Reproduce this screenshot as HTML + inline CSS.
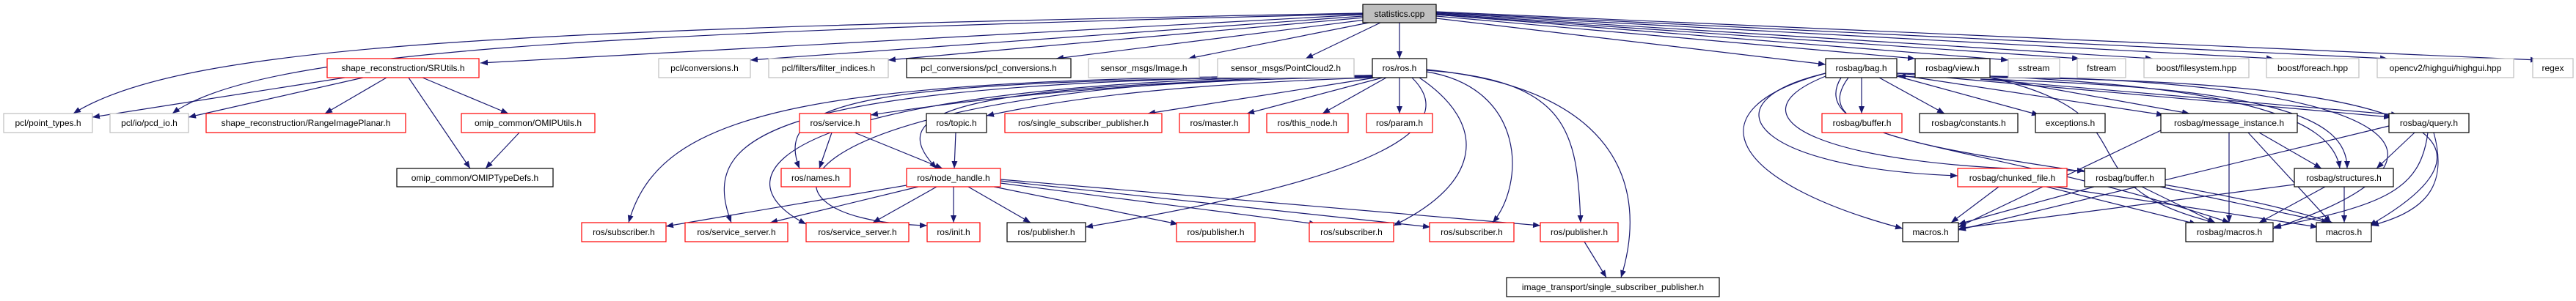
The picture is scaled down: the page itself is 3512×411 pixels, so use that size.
<!DOCTYPE html>
<html><head><meta charset="utf-8"><style>
html,body{margin:0;padding:0;background:#fff;}
svg{display:block;}
text{font-family:"Liberation Sans",sans-serif;font-size:12px;text-anchor:middle;fill:#000;}
.e{fill:none;stroke:#191970;stroke-width:1.2;marker-end:url(#a);}
.r{fill:#fff;stroke:#ff0000;stroke-width:1.2;}
.g{fill:#fff;stroke:#bfbfbf;stroke-width:1.2;}
.k{fill:#fff;stroke:#000;stroke-width:1.2;}
</style></head><body>
<svg width="3512" height="411" viewBox="0 0 3512 411" xmlns="http://www.w3.org/2000/svg">
<defs><marker id="a" markerUnits="userSpaceOnUse" markerWidth="10" markerHeight="8" refX="10" refY="4" orient="auto"><path d="M0,0 L10,4 L0,8 z" fill="#191970"/></marker></defs>
<g>
<!-- statistics edges -->
<path class="e" d="M1858,20 L655,86"/>
<path class="e" d="M1858,22 L1023,82"/>
<path class="e" d="M1860,24 L1211,82"/>
<path class="e" d="M1862,27 L1440,80"/>
<path class="e" d="M1866,31 L1620,80"/>
<path class="e" d="M1882,31 L1780,80"/>
<path class="e" d="M1908,31 L1908,80"/>
<path class="e" d="M1858,18 C700,40 250,60 100,155"/>
<path class="e" d="M1858,19 C800,45 350,70 235,155"/>
<path class="e" d="M1958,25 L2489,88"/>
<path class="e" d="M1958,22 L2611,80"/>
<path class="e" d="M1958,20 L2738,82"/>
<path class="e" d="M1958,20 L2835,80"/>
<path class="e" d="M1958,19 L2935,80"/>
<path class="e" d="M1958,18 L3100,80"/>
<path class="e" d="M1958,17 L3255,80"/>
<path class="e" d="M1958,16 L3460,82"/>
<!-- SRUtils -->
<path class="e" d="M470,106 L126,160"/>
<path class="e" d="M495,106 L257,160"/>
<path class="e" d="M527,106 L443,155"/>
<path class="e" d="M557,106 L641,230"/>
<path class="e" d="M576,106 L693,155"/>
<path class="e" d="M708,181 L662,230"/>
<!-- ros.h -->
<path class="e" d="M1871,104 C1500,112 1300,140 1187,157"/>
<path class="e" d="M1871,106 C1600,115 1450,135 1345,158"/>
<path class="e" d="M1875,106 L1565,155"/>
<path class="e" d="M1885,106 L1700,155"/>
<path class="e" d="M1890,106 L1803,155"/>
<path class="e" d="M1908,106 L1908,155"/>
<path class="e" d="M1871,104 C1200,110 1050,130 1090,230"/>
<path class="e" d="M1871,105 C1300,115 1200,150 1277,230"/>
<path class="e" d="M1871,103 C1100,105 900,150 857,304"/>
<path class="e" d="M1871,103 C1050,110 950,180 997,304"/>
<path class="e" d="M1871,103 C1050,110 970,240 1099,306"/>
<path class="e" d="M1871,103 C1050,112 980,300 1264,308"/>
<path class="e" d="M1925,106 C1990,170 1900,240 1480,310"/>
<path class="e" d="M1935,106 C2030,170 2020,250 1900,308"/>
<path class="e" d="M1945,98 C2080,120 2080,250 2035,304"/>
<path class="e" d="M1945,96 C2140,110 2150,180 2155,304"/>
<path class="e" d="M1945,95 C2200,120 2250,250 2210,379"/>
<path class="e" d="M2160,330 L2190,379"/>
<!-- service/topic/node_handle -->
<path class="e" d="M1134,181 L1117,230"/>
<path class="e" d="M1165,181 L1285,230"/>
<path class="e" d="M1303,181 L1301,230"/>
<path class="e" d="M1236,253 L908,309"/>
<path class="e" d="M1252,255 L1050,304"/>
<path class="e" d="M1277,255 L1190,304"/>
<path class="e" d="M1300,255 L1300,304"/>
<path class="e" d="M1320,255 L1405,304"/>
<path class="e" d="M1355,255 L1606,306"/>
<path class="e" d="M1364,250 L1795,306"/>
<path class="e" d="M1364,247 L1950,310"/>
<path class="e" d="M1364,245 L2100,308"/>
<!-- bag.h -->
<path class="e" d="M2538,106 L2538,155"/>
<path class="e" d="M2562,106 L2651,155"/>
<path class="e" d="M2586,104 L2780,157"/>
<path class="e" d="M2586,102 L2950,157"/>
<path class="e" d="M2586,100 C3050,110 3180,160 3190,230"/>
<path class="e" d="M2586,100 L3260,160"/>
<path class="e" d="M2489,100 C2320,140 2390,230 2669,240"/>
<path class="e" d="M2489,104 C2350,160 2480,230 2842,233"/>
<path class="e" d="M2489,100 C2300,150 2360,250 2594,312"/>
<path class="e" d="M2520,106 C2450,200 2700,190 3040,304"/>
<path class="e" d="M2510,106 C2440,220 2900,215 3180,304"/>
<!-- view.h -->
<path class="e" d="M2640,106 L2588,104"/>
<path class="e" d="M2713,106 L2985,155"/>
<path class="e" d="M2700,108 L3270,157"/>
<path class="e" d="M2700,108 C3100,120 3200,160 3200,230"/>
<path class="e" d="M2713,106 C2950,160 2800,250 3020,304"/>
<path class="e" d="M2713,106 C3350,110 3420,200 3230,308"/>
<path class="e" d="M2713,104 C3300,112 3380,220 3099,312"/>
<!-- message_instance -->
<path class="e" d="M2946,178 L2670,310"/>
<path class="e" d="M3039,181 L3039,304"/>
<path class="e" d="M3080,181 L3165,230"/>
<path class="e" d="M3065,181 L3178,304"/>
<!-- query -->
<path class="e" d="M3292,181 L3240,230"/>
<path class="e" d="M3257,172 L2670,314"/>
<path class="e" d="M3310,181 C3300,260 3250,280 3100,310"/>
<path class="e" d="M3318,181 C3340,260 3300,290 3233,308"/>
<!-- chunked/buffer/structures -->
<path class="e" d="M2725,255 L2660,304"/>
<path class="e" d="M2790,255 L2995,306"/>
<path class="e" d="M2800,255 L3160,310"/>
<path class="e" d="M2855,255 L2670,306"/>
<path class="e" d="M2920,255 L3020,304"/>
<path class="e" d="M2945,255 L3175,304"/>
<path class="e" d="M3128,252 L2670,312"/>
<path class="e" d="M3170,255 L3080,304"/>
<path class="e" d="M3196,255 L3196,304"/>
</g>
<g>
<rect x="1858" y="6" width="100" height="25" fill="#bfbfbf" stroke="#000" stroke-width="1.2"/><text x="1908" y="23">statistics.cpp</text>
<!-- row1 -->
<rect class="r" x="446" y="80" width="207" height="26"/><text x="549.5" y="97">shape_reconstruction/SRUtils.h</text>
<rect class="g" x="898" y="80" width="125" height="26"/><text x="960.5" y="97">pcl/conversions.h</text>
<rect class="g" x="1048" y="80" width="163" height="26"/><text x="1129.5" y="97">pcl/filters/filter_indices.h</text>
<rect class="k" x="1236" y="80" width="224" height="26"/><text x="1348" y="97">pcl_conversions/pcl_conversions.h</text>
<rect class="g" x="1484" y="80" width="151" height="26"/><text x="1559.5" y="97">sensor_msgs/Image.h</text>
<rect class="g" x="1660" y="80" width="186" height="26"/><text x="1753" y="97">sensor_msgs/PointCloud2.h</text>
<rect class="k" x="1871" y="80" width="74" height="26"/><text x="1908" y="97">ros/ros.h</text>
<rect class="k" x="2489" y="80" width="97" height="26"/><text x="2537.5" y="97">rosbag/bag.h</text>
<rect class="k" x="2611" y="80" width="102" height="26"/><text x="2662" y="97">rosbag/view.h</text>
<rect class="g" x="2738" y="80" width="70" height="26"/><text x="2773" y="97">sstream</text>
<rect class="g" x="2832" y="80" width="66" height="26"/><text x="2865" y="97">fstream</text>
<rect class="g" x="2923" y="80" width="143" height="26"/><text x="2994.5" y="97">boost/filesystem.hpp</text>
<rect class="g" x="3090" y="80" width="126" height="26"/><text x="3153" y="97">boost/foreach.hpp</text>
<rect class="g" x="3241" y="80" width="186" height="26"/><text x="3334" y="97">opencv2/highgui/highgui.hpp</text>
<rect class="g" x="3453" y="80" width="55" height="26"/><text x="3480.5" y="97">regex</text>
<!-- row2 -->
<rect class="g" x="5" y="155" width="121" height="26"/><text x="65.5" y="172">pcl/point_types.h</text>
<rect class="g" x="150" y="155" width="107" height="26"/><text x="203.5" y="172">pcl/io/pcd_io.h</text>
<rect class="r" x="281" y="155" width="272" height="26"/><text x="417" y="172">shape_reconstruction/RangeImagePlanar.h</text>
<rect class="r" x="629" y="155" width="182" height="26"/><text x="720" y="172">omip_common/OMIPUtils.h</text>
<rect class="r" x="1090" y="155" width="97" height="26"/><text x="1138.5" y="172">ros/service.h</text>
<rect class="k" x="1263" y="155" width="82" height="26"/><text x="1304" y="172">ros/topic.h</text>
<rect class="r" x="1370" y="155" width="214" height="26"/><text x="1477" y="172">ros/single_subscriber_publisher.h</text>
<rect class="r" x="1608" y="155" width="95" height="26"/><text x="1655.5" y="172">ros/master.h</text>
<rect class="r" x="1727" y="155" width="111" height="26"/><text x="1782.5" y="172">ros/this_node.h</text>
<rect class="r" x="1863" y="155" width="90" height="26"/><text x="1908" y="172">ros/param.h</text>
<rect class="r" x="2484" y="155" width="109" height="26"/><text x="2538.5" y="172">rosbag/buffer.h</text>
<rect class="k" x="2617" y="155" width="134" height="26"/><text x="2684" y="172">rosbag/constants.h</text>
<rect class="k" x="2775" y="155" width="95" height="26"/><text x="2822.5" y="172">exceptions.h</text>
<rect class="k" x="2946" y="155" width="186" height="26"/><text x="3039" y="172">rosbag/message_instance.h</text>
<rect class="k" x="3257" y="155" width="109" height="26"/><text x="3311.5" y="172">rosbag/query.h</text>
<!-- row3 -->
<rect class="k" x="541" y="230" width="213" height="25"/><text x="647.5" y="247">omip_common/OMIPTypeDefs.h</text>
<rect class="r" x="1065" y="230" width="94" height="25"/><text x="1112" y="247">ros/names.h</text>
<rect class="r" x="1236" y="230" width="128" height="25"/><text x="1300" y="247">ros/node_handle.h</text>
<rect class="r" x="2669" y="230" width="149" height="25"/><text x="2743.5" y="247">rosbag/chunked_file.h</text>
<rect class="k" x="2842" y="230" width="110" height="25"/><text x="2897" y="247">rosbag/buffer.h</text>
<rect class="k" x="3128" y="230" width="135" height="25"/><text x="3195.5" y="247">rosbag/structures.h</text>
<!-- row4 -->
<rect class="r" x="793" y="304" width="115" height="26"/><text x="850.5" y="321">ros/subscriber.h</text>
<rect class="r" x="934" y="304" width="140" height="26"/><text x="1004" y="321">ros/service_server.h</text>
<rect class="r" x="1099" y="304" width="140" height="26"/><text x="1169" y="321">ros/service_server.h</text>
<rect class="r" x="1264" y="304" width="72" height="26"/><text x="1300" y="321">ros/init.h</text>
<rect class="k" x="1373" y="304" width="107" height="26"/><text x="1426.5" y="321">ros/publisher.h</text>
<rect class="r" x="1604" y="304" width="107" height="26"/><text x="1657.5" y="321">ros/publisher.h</text>
<rect class="r" x="1785" y="304" width="115" height="26"/><text x="1842.5" y="321">ros/subscriber.h</text>
<rect class="r" x="1949" y="304" width="115" height="26"/><text x="2006.5" y="321">ros/subscriber.h</text>
<rect class="r" x="2100" y="304" width="106" height="26"/><text x="2153" y="321">ros/publisher.h</text>
<rect class="k" x="2594" y="304" width="76" height="26"/><text x="2632" y="321">macros.h</text>
<rect class="k" x="2980" y="304" width="119" height="26"/><text x="3039.5" y="321">rosbag/macros.h</text>
<rect class="k" x="3158" y="304" width="75" height="26"/><text x="3195.5" y="321">macros.h</text>
<!-- row5 -->
<rect class="k" x="2054" y="379" width="290" height="26"/><text x="2199" y="396">image_transport/single_subscriber_publisher.h</text>
</g>
</svg>
</body></html>
